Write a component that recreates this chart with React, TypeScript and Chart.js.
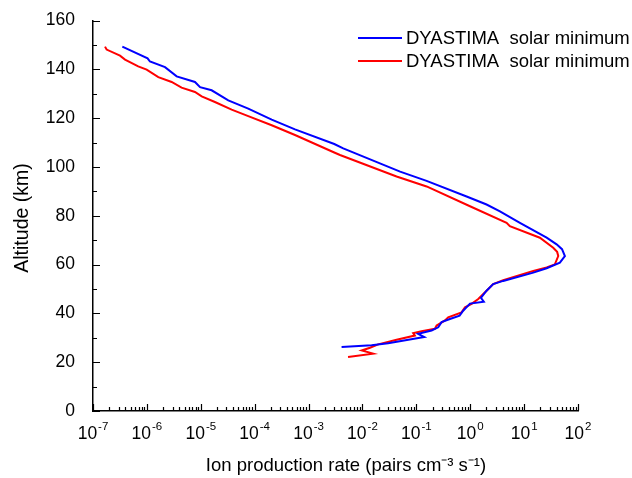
import React, { useEffect, useRef } from "react";
import { Chart, registerables } from "chart.js";

Chart.register(...registerables);

const seriesLabels = ["DYASTIMA solar minimum", "DYASTIMA solar minimum"];
const seriesColors = ["#0000FF", "#FF0000"];

const blueRate = [3.5e-7, 1.03e-6, 1.14e-6, 2.17e-6, 3.57e-6, 7.8e-6, 9.7e-6, 1.59e-5, 3.24e-5, 7.6e-5, 2.07e-4, 5.6e-4, 3.0e-3, 4.4e-3, 0.05, 0.155, 0.857, 2.01, 3.56, 8.36, 26.2, 40.1, 50.5, 57.1, 46.1, 26.2, 14.8, 4.09, 2.67, 2.01, 1.58, 1.79, 0.99, 0.74, 0.635, 0.42, 0.294, 0.255, 0.192, 0.108, 0.14, 0.03, 0.0148, 0.0041];
const blueAlt = [149.3, 144.5, 143.2, 140.9, 137.1, 134.8, 132.7, 131.4, 127.3, 123.9, 119.4, 115.4, 109.4, 107.6, 98.1, 94.3, 87.9, 84.6, 81.8, 77.1, 71.0, 68.3, 66.3, 63.5, 60.8, 58.5, 56.7, 53.3, 52.0, 49.3, 46.4, 44.8, 44.0, 41.1, 39.1, 37.7, 36.4, 34.3, 33.0, 31.6, 30.3, 27.8, 26.9, 26.2];

const redRate = [1.67e-7, 1.79e-7, 3.17e-7, 3.93e-7, 6.9e-7, 9.9e-7, 1.63e-6, 2.88e-6, 4.4e-6, 7.8e-6, 1.04e-5, 1.83e-5, 3.74e-5, 7.6e-5, 2.07e-4, 5.6e-4, 3.0e-3, 3.83e-3, 0.043, 0.155, 0.99, 4.73, 5.44, 19.6, 34.7, 41.0, 43.0, 37.2, 26.2, 14.8, 4.09, 2.67, 2.01, 1.41, 1.06, 0.8, 0.69, 0.39, 0.34, 0.238, 0.221, 0.125, 0.0875, 0.094, 0.043, 0.0196, 0.0138, 0.0097, 0.0158, 0.0054];
const redAlt = [149.3, 148.1, 145.6, 144.0, 141.2, 139.9, 136.8, 134.8, 132.5, 130.7, 128.9, 126.6, 123.5, 120.8, 117.1, 113.1, 105.9, 104.9, 96.1, 92.0, 83.9, 77.1, 75.7, 71.0, 66.9, 65.2, 63.5, 60.1, 58.8, 57.4, 53.6, 52.0, 49.3, 45.9, 43.9, 42.5, 40.4, 38.4, 37.1, 35.0, 33.7, 32.7, 31.9, 30.9, 29.2, 27.3, 25.9, 24.8, 23.5, 22.1];

const xTickExponents = [-7, -6, -5, -4, -3, -2, -1, 0, 1, 2];
const xTitle = "Ion production rate (pairs cm\u207B\u00B3 s\u207B\u00B9)";
const yTitle = "Altitude (km)";

const FONT = "'Liberation Sans', Arial, sans-serif";

const axesPlugin = {
  id: "customAxes",
  afterDraw(chart: any) {
    const ctx = chart.ctx;
    const xs = chart.scales.x;
    const ys = chart.scales.y;
    const area = chart.chartArea;
    ctx.save();
    ctx.strokeStyle = "#000";
    ctx.lineWidth = 1.2;
    ctx.beginPath();
    for (const e of xTickExponents) {
      const base = Math.pow(10, e);
      const px = Math.round(xs.getPixelForValue(base)) + 0.5;
      ctx.moveTo(px, area.bottom);
      ctx.lineTo(px, area.bottom - 7);
      if (e < xTickExponents[xTickExponents.length - 1]) {
        for (let k = 2; k <= 9; k++) {
          const mx = Math.round(xs.getPixelForValue(k * base)) + 0.5;
          ctx.moveTo(mx, area.bottom);
          ctx.lineTo(mx, area.bottom - 4);
        }
      }
    }
    for (let v = 0; v <= 160; v += 10) {
      const py = Math.round(ys.getPixelForValue(v)) + 0.5;
      const len = v % 20 === 0 ? 7 : 4;
      ctx.moveTo(area.left, py);
      ctx.lineTo(area.left + len, py);
    }
    ctx.stroke();

    ctx.fillStyle = "#000";
    ctx.textBaseline = "alphabetic";
    ctx.textAlign = "left";
    for (const e of xTickExponents) {
      const px = xs.getPixelForValue(Math.pow(10, e));
      ctx.font = `17.5px ${FONT}`;
      const wBase = ctx.measureText("10").width;
      ctx.font = `11.5px ${FONT}`;
      const expText = String(e);
      const wExp = ctx.measureText(expText).width;
      const start = px - (wBase + wExp + 1) / 2;
      ctx.font = `17.5px ${FONT}`;
      ctx.fillText("10", start, 439);
      ctx.font = `11.5px ${FONT}`;
      ctx.fillText(expText, start + wBase + 1, 430);
    }

    ctx.font = `18.5px ${FONT}`;
    ctx.textAlign = "center";
    ctx.textBaseline = "middle";
    ctx.fillText(xTitle, 346, 466);

    ctx.save();
    ctx.translate(23, 218);
    ctx.rotate(-Math.PI / 2);
    ctx.font = `19.5px ${FONT}`;
    ctx.fillText(yTitle, 0, 0);
    ctx.restore();

    const legendY = [38, 61];
    chart.data.datasets.forEach((ds: any, i: number) => {
      ctx.strokeStyle = ds.borderColor;
      ctx.lineWidth = 2;
      ctx.beginPath();
      ctx.moveTo(358, legendY[i]);
      ctx.lineTo(402, legendY[i]);
      ctx.stroke();
      ctx.fillStyle = "#000";
      ctx.font = `18.5px ${FONT}`;
      ctx.textAlign = "left";
      ctx.textBaseline = "middle";
      ctx.fillText(ds.label.replace(" ", "  "), 406, legendY[i] + 1);
    });
    ctx.restore();
  },
};

export default function App() {
  const ref = useRef<HTMLCanvasElement | null>(null);
  useEffect(() => {
    document.body.style.margin = "0";
    const canvas = ref.current;
    if (!canvas) return;
    const toPoints = (xsArr: number[], ysArr: number[]) => xsArr.map((v, i) => ({ x: v, y: ysArr[i] }));
    const chart = new Chart(canvas, {
      type: "scatter",
      data: {
        datasets: [
          {
            label: seriesLabels[0],
            data: toPoints(blueRate, blueAlt),
            borderColor: seriesColors[0],
            backgroundColor: seriesColors[0],
            showLine: true,
            pointRadius: 0,
            borderWidth: 2,
            tension: 0,
          },
          {
            label: seriesLabels[1],
            data: toPoints(redRate, redAlt),
            borderColor: seriesColors[1],
            backgroundColor: seriesColors[1],
            showLine: true,
            pointRadius: 0,
            borderWidth: 2,
            tension: 0,
          },
        ],
      },
      options: {
        animation: false,
        responsive: false,
        layout: { padding: { top: 18, right: 54, left: 0, bottom: 0 } },
        plugins: { legend: { display: false }, tooltip: { enabled: false } },
        scales: {
          x: {
            type: "logarithmic",
            min: 1e-7,
            max: 100,
            grid: { display: false },
            border: { display: true, color: "#000", width: 1.5 },
            ticks: { display: false },
            afterFit: (s: any) => {
              s.height = 67;
            },
          },
          y: {
            type: "linear",
            min: 0,
            max: 160,
            grid: { display: false },
            border: { display: true, color: "#000", width: 1.5 },
            ticks: {
              stepSize: 20,
              color: "#000",
              padding: 10,
              font: { family: FONT, size: 17.5 },
            },
            afterFit: (s: any) => {
              s.width = 93;
            },
          },
        },
      },
      plugins: [axesPlugin],
    });
    return () => chart.destroy();
  }, []);
  return (
    <div style={{ width: 632, height: 478, background: "#fff" }}>
      <canvas ref={ref} width={632} height={478} />
    </div>
  );
}
